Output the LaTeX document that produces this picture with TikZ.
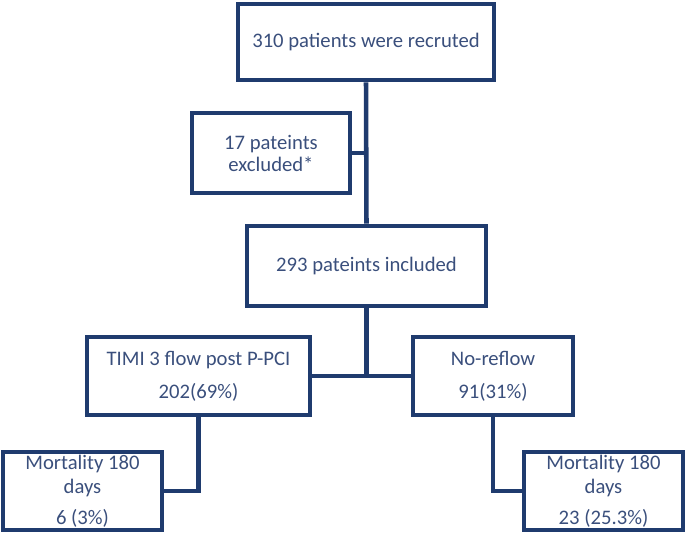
\documentclass[tikz,border=0pt]{standalone}
\usepackage{fontspec}
\setmainfont{Carlito}
\definecolor{linec}{HTML}{1F3B6E}
\definecolor{textc}{HTML}{3A4F7C}
\begin{document}
\begin{tikzpicture}[x=0.75pt,y=-0.75pt,
  box/.style={draw=linec, line width=3.4pt, rectangle, inner sep=0pt, align=center,
    text=textc, font=\fontsize{15.5}{18}\selectfont},
  conn/.style={draw=linec, line width=3.4pt}]
\useasboundingbox (0,0) rectangle (686,534);
\node[box, minimum width=192pt, minimum height=57pt] (top) at (366,42) {310 patients were recruted};
\node[box, minimum width=118.5pt, minimum height=60pt] (excl) at (271,153) {17 pateints\\[-1.5pt]excluded*};
\node[box, minimum width=179.25pt, minimum height=60pt] (incl) at (366.5,266) {293 pateints included};
\node[box, minimum width=167.25pt, minimum height=58.5pt] (timi) at (198.5,376) {TIMI 3 flow post P-PCI\\[6.75pt]202(69\%)};
\node[box, minimum width=120pt, minimum height=58.5pt] (noref) at (493,376) {No-reflow\\[6.75pt]91(31\%)};
\node[box, minimum width=119.25pt, minimum height=58.5pt] (mortL) at (82.5,491) {Mortality 180\\days\\[5.25pt]6 (3\%)};
\node[box, minimum width=119.25pt, minimum height=58.5pt] (mortR) at (603.5,491) {Mortality 180\\days\\[5.25pt]23 (25.3\%)};
\draw[conn] (top.south) -- (incl.north);
\draw[conn] (excl.east) -- (excl.east -| top.south);
\draw[conn] (incl.south) -- (incl.south |- timi.east);
\draw[conn] (timi.east) -- (noref.west);
\draw[conn] (timi.south) |- (mortL.east);
\draw[conn] (noref.south) |- (mortR.west);
\end{tikzpicture}
\end{document}
